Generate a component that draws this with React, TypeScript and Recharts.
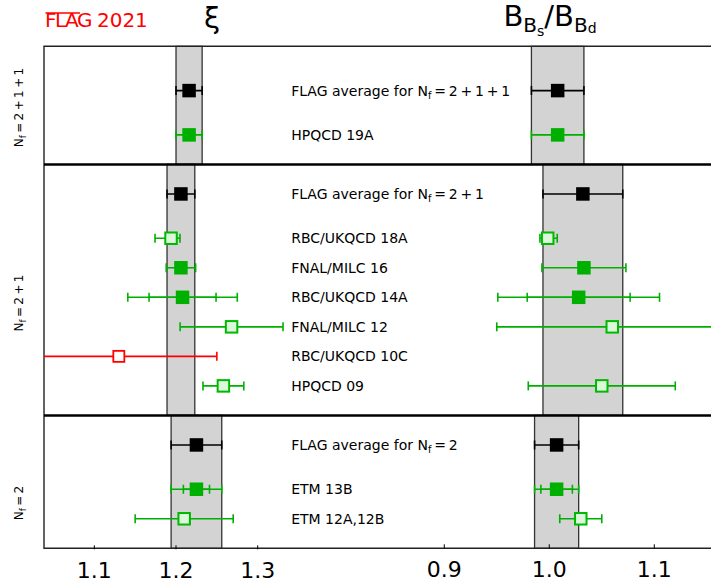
import React from "react";
import {
  ComposedChart,
  Scatter,
  XAxis,
  YAxis,
  ErrorBar,
  ReferenceArea,
  ReferenceLine,
} from "recharts";

// one entry per row, top to bottom
const collaborations = [
  "FLAG average for N_f=2+1+1",
  "HPQCD 19A",
  "FLAG average for N_f=2+1",
  "RBC/UKQCD 18A",
  "FNAL/MILC 16",
  "RBC/UKQCD 14A",
  "FNAL/MILC 12",
  "RBC/UKQCD 10C",
  "HPQCD 09",
  "FLAG average for N_f=2",
  "ETM 13B",
  "ETM 12A,12B",
];
const rowPos = [1.5, 3, 5, 6.5, 7.5, 8.5, 9.5, 10.5, 11.5, 13.5, 15, 16];
const markerKind = [
  "avg", "filled", "avg", "open", "filled", "filled",
  "open", "excluded", "open", "avg", "filled", "open",
];

// xi
const xiValues = [1.216, 1.216, 1.206, 1.1939, 1.206, 1.208, 1.268, 1.13, 1.258, 1.225, 1.225, 1.21];
const xiErrLow = [0.016, 0.016, 0.017, 0.0196, 0.018, 0.067, 0.063, 0.12, 0.025, 0.031, 0.031, 0.06];
const xiErrHigh = [0.016, 0.016, 0.017, 0.011, 0.018, 0.067, 0.063, 0.12, 0.025, 0.031, 0.031, 0.06];
const xiStatErr = [null, null, null, null, null, 0.041, null, null, null, null, 0.016, null];

// B_Bs / B_Bd
const bValues = [1.008, 1.008, 1.032, 0.9985, 1.033, 1.028, 1.06, null, 1.05, 1.007, 1.007, 1.03];
const bErrLow = [0.025, 0.025, 0.038, 0.0074, 0.04, 0.077, 0.11, null, 0.07, 0.021, 0.021, 0.02];
const bErrHigh = [0.025, 0.025, 0.038, 0.0091, 0.04, 0.077, 0.11, null, 0.07, 0.021, 0.021, 0.02];
const bStatErr = [null, null, null, null, null, 0.049, null, null, null, null, 0.015, null];

const sectionBounds = [0, 4, 12.5, 17];
const sectionAverageRow = [0, 2, 9];
const sectionNames = ["2+1+1", "2+1", "2"];

const xiTicks = [1.1, 1.2, 1.3];
const bTicks = [0.9, 1.0, 1.1];
const xiDomain: [number, number] = [1.0384, 1.8659];
const bDomain: [number, number] = [0.5188, 1.1626];
const labelAnchorXi = 1.341;

const FONT = "DejaVu Sans, Verdana, sans-serif";
const GREEN = "#00b000";

const STYLES: Record<string, { color: string; fill: string; stroke: string; size: number; sw: number }> = {
  avg: { color: "#000000", fill: "#000000", stroke: "#000000", size: 13.5, sw: 0 },
  filled: { color: GREEN, fill: GREEN, stroke: GREEN, size: 13.5, sw: 0 },
  open: { color: GREEN, fill: "#dbf8db", stroke: "#00b800", size: 11.5, sw: 2 },
  excluded: { color: "#ff0000", fill: "#ffffff", stroke: "#ff0000", size: 11, sw: 1.8 },
};
const KINDS = ["avg", "filled", "open", "excluded"];

function buildPoints(
  values: (number | null)[],
  low: (number | null)[],
  high: (number | null)[],
  stat: (number | null)[],
  kind: string
) {
  const out: any[] = [];
  values.forEach((v, i) => {
    if (v == null || markerKind[i] !== kind) return;
    out.push({
      x: v,
      y: rowPos[i],
      err: [low[i], high[i]],
      stat: stat[i] != null ? [stat[i], stat[i]] : null,
    });
  });
  return out;
}

const labelData = collaborations.map((name, i) => ({ x: labelAnchorXi, y: rowPos[i], name }));

function nfText(rest: string) {
  return "\u2009=\u2009" + rest.split("+").join("\u2009+\u2009");
}

function renderName(name: string, fs: number) {
  const idx = name.indexOf("N_f=");
  if (idx < 0) return name;
  return [
    <tspan key="a">{name.slice(0, idx)}N</tspan>,
    <tspan key="b" fontSize={fs * 0.7} dy={fs * 0.22}>f</tspan>,
    <tspan key="c" dy={-fs * 0.22}>{nfText(name.slice(idx + 4))}</tspan>,
  ];
}

const squareShape = (kind: string) => (p: any) => {
  const st = STYLES[kind];
  const s = st.size;
  return (
    <rect
      x={p.cx - s / 2}
      y={p.cy - s / 2}
      width={s}
      height={s}
      fill={st.fill}
      stroke={st.stroke}
      strokeWidth={st.sw}
    />
  );
};

const labelShape = (p: any) => (
  <text x={p.cx} y={p.cy + 5} fontSize={14} fontFamily={FONT} fill="#000">
    {renderName(p.payload.name, 14)}
  </text>
);

const AxisTick = (props: any) => {
  const { x, y, payload } = props;
  return (
    <g>
      <line x1={x} x2={x} y1={y} y2={y - 4} stroke="#000" strokeWidth={1} />
      <text x={x} y={y + 28.5} textAnchor="middle" fontSize={22} fontFamily={FONT} fill="#000">
        {Number(payload.value).toFixed(1)}
      </text>
    </g>
  );
};

function panelSeries(
  axisId: string,
  values: (number | null)[],
  low: (number | null)[],
  high: (number | null)[],
  stat: (number | null)[]
) {
  return KINDS.map((k) => {
    const pts = buildPoints(values, low, high, stat, k);
    if (!pts.length) return null;
    const st = STYLES[k];
    return (
      <Scatter
        key={axisId + "-" + k}
        className="plot-clip"
        xAxisId={axisId}
        yAxisId="r"
        data={pts}
        shape={squareShape(k)}
        isAnimationActive={false}
      >
        <ErrorBar dataKey="err" direction="x" width={4.5} stroke={st.color} strokeWidth={1.6} />
        <ErrorBar dataKey="stat" direction="x" width={4.5} stroke={st.color} strokeWidth={1.6} />
      </Scatter>
    );
  });
}

export default function App() {
  const sideCenters = [107.5, 303, 503];
  return (
    <div
      style={{
        position: "absolute",
        left: 0,
        top: 0,
        width: 711,
        height: 585,
        overflow: "hidden",
        background: "#fff",
      }}
    >
      <style>{`.plot-clip, .recharts-errorBar { clip-path: url(#plotClip); }`}</style>
      <ComposedChart width={720} height={585} margin={{ top: 46.3, right: 0, bottom: 34.7, left: 44 }}>
        <XAxis
          xAxisId="xi"
          type="number"
          dataKey="x"
          domain={xiDomain}
          allowDataOverflow
          ticks={xiTicks}
          interval={0}
          height={1}
          axisLine={false}
          tickLine={false}
          tickSize={0}
          tickMargin={0}
          tick={<AxisTick />}
        />
        <XAxis
          xAxisId="bb"
          type="number"
          dataKey="x"
          domain={bDomain}
          allowDataOverflow
          ticks={bTicks}
          interval={0}
          height={1}
          axisLine={false}
          tickLine={false}
          tickSize={0}
          tickMargin={0}
          tick={<AxisTick />}
        />
        <YAxis yAxisId="r" type="number" dataKey="y" domain={[0, 17]} reversed hide allowDataOverflow />

        {sectionAverageRow.map((row, s) => (
          <ReferenceArea
            key={"xiband" + s}
            xAxisId="xi"
            yAxisId="r"
            x1={(xiValues[row] as number) - (xiErrLow[row] as number)}
            x2={(xiValues[row] as number) + (xiErrHigh[row] as number)}
            y1={sectionBounds[s]}
            y2={sectionBounds[s + 1]}
            fill="#d3d3d3"
            fillOpacity={1}
            stroke="#333"
            strokeWidth={1.3}
          />
        ))}
        {sectionAverageRow.map((row, s) => (
          <ReferenceArea
            key={"bband" + s}
            xAxisId="bb"
            yAxisId="r"
            x1={(bValues[row] as number) - (bErrLow[row] as number)}
            x2={(bValues[row] as number) + (bErrHigh[row] as number)}
            y1={sectionBounds[s]}
            y2={sectionBounds[s + 1]}
            fill="#d3d3d3"
            fillOpacity={1}
            stroke="#333"
            strokeWidth={1.3}
          />
        ))}

        {panelSeries("xi", xiValues, xiErrLow, xiErrHigh, xiStatErr)}
        {panelSeries("bb", bValues, bErrLow, bErrHigh, bStatErr)}

        <Scatter
          xAxisId="xi"
          yAxisId="r"
          data={labelData}
          shape={labelShape}
          isAnimationActive={false}
        />

        {sectionBounds.slice(1, -1).map((b) => (
          <ReferenceLine key={"div" + b} xAxisId="xi" yAxisId="r" y={b} stroke="#000" strokeWidth={2.5} />
        ))}
        <ReferenceArea
          xAxisId="xi"
          yAxisId="r"
          x1={xiDomain[0]}
          x2={xiDomain[1]}
          y1={0}
          y2={17}
          fill="none"
          stroke="#222"
          strokeWidth={1.4}
        />
      </ComposedChart>

      <svg
        width={711}
        height={585}
        style={{ position: "absolute", left: 0, top: 0, pointerEvents: "none" }}
      >
        <defs>
          <clipPath id="plotClip" clipPathUnits="userSpaceOnUse">
            <rect x={44} y={46.3} width={676} height={502} />
          </clipPath>
        </defs>
        <text x={45} y={27.3} fontSize={20} fontFamily={FONT} fill="#ff0000">
          <tspan letterSpacing={-1.5}>FLAG</tspan>
          <tspan dx={6}>2021</tspan>
        </text>
        <line x1={45.5} x2={80} y1={13} y2={13} stroke="#ff0000" strokeWidth={1.6} />
        <text x={212} y={28} fontSize={29} fontFamily={FONT} textAnchor="middle" fill="#000">
          ξ
        </text>
        <text x={550} y={26} fontSize={29} fontFamily={FONT} textAnchor="middle" fill="#000">
          B
          <tspan fontSize={20} dy={6}>B</tspan>
          <tspan fontSize={14} dy={4}>s</tspan>
          <tspan dy={-10}>/B</tspan>
          <tspan fontSize={20} dy={6}>B</tspan>
          <tspan fontSize={14} dy={1}>d</tspan>
        </text>
        {sectionNames.map((nm, i) => (
          <text
            key={nm}
            x={23}
            y={sideCenters[i]}
            transform={`rotate(-90 23 ${sideCenters[i]})`}
            textAnchor="middle"
            fontSize={12}
            fontFamily={FONT}
            fill="#000"
          >
            N
            <tspan fontSize={8.5} dy={2.6}>f</tspan>
            <tspan dy={-2.6}>{nfText(nm)}</tspan>
          </text>
        ))}
      </svg>
    </div>
  );
}
